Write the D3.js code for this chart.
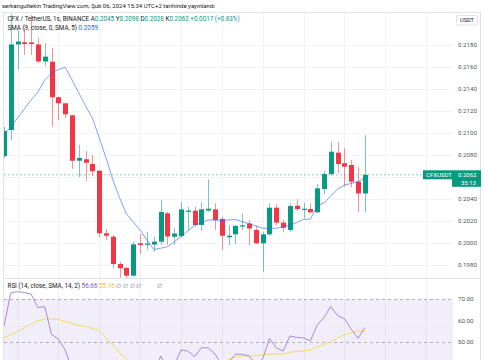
<!DOCTYPE html>
<html><head><meta charset="utf-8">
<script src="https://cdn.jsdelivr.net/npm/d3@7"></script>
<style>html,body{margin:0;padding:0;background:#fff;overflow:hidden}svg{display:block;font-family:Roboto,"Liberation Sans",sans-serif}</style>
</head><body><svg id="c" width="485" height="360"></svg>
<script>
// ---------- data ----------
const opens  = [0.20791,0.21027,0.21805,0.21825,0.21823,0.21805,0.2165,0.21648,0.21325,0.2127,0.21161,0.20748,0.20761,0.20718,0.20657,0.20088,0.20057,0.19809,0.19773,0.19703,0.19997,0.19991,0.19986,0.20012,0.2027,0.20057,0.20064,0.20293,0.20294,0.20164,0.20295,0.20306,0.20218,0.20052,0.20079,0.20159,0.20177,0.20118,0.19997,0.20079,0.20321,0.20185,0.20118,0.20339,0.20309,0.20309,0.20279,0.20491,0.20627,0.20821,0.20725,0.20709,0.20557,0.2045];
const highs  = [0.21055,0.22082,0.21936,0.21955,0.22073,0.21864,0.21818,0.21773,0.2133,0.21273,0.21164,0.20891,0.20836,0.208,0.20664,0.20127,0.20073,0.1983,0.19785,0.20012,0.20082,0.201,0.20057,0.20391,0.20285,0.20136,0.20375,0.2033,0.2033,0.2037,0.20579,0.20361,0.20239,0.20164,0.20164,0.2027,0.20209,0.20155,0.20103,0.20361,0.20352,0.20209,0.20361,0.20397,0.20366,0.20361,0.20536,0.20655,0.20921,0.20921,0.20861,0.20755,0.20691,0.2098];
const lows   = [0.20773,0.20936,0.21573,0.21709,0.21709,0.21636,0.21609,0.21057,0.21118,0.21136,0.20673,0.206,0.20566,0.20609,0.20052,0.20027,0.1977,0.19685,0.19685,0.19694,0.199,0.19936,0.19921,0.19982,0.19982,0.19982,0.2005,0.20118,0.20148,0.20112,0.20285,0.20118,0.19936,0.19982,0.19991,0.20118,0.19982,0.19991,0.19739,0.20064,0.20164,0.20097,0.20103,0.20294,0.20225,0.2027,0.2027,0.20443,0.20609,0.20634,0.20512,0.20509,0.20282,0.2028];
const closes = [0.21018,0.21805,0.21832,0.21809,0.21809,0.2165,0.21694,0.21325,0.2127,0.2117,0.20748,0.20773,0.2073,0.20652,0.20088,0.20066,0.19809,0.1977,0.19703,0.19988,0.19982,0.19995,0.20012,0.20282,0.20059,0.20086,0.20305,0.20295,0.20164,0.20306,0.20312,0.20209,0.20066,0.20066,0.20155,0.20161,0.20132,0.19997,0.20079,0.20321,0.20185,0.20139,0.20336,0.20309,0.20311,0.20279,0.20497,0.20627,0.2083,0.20718,0.20694,0.20557,0.2045,0.2062];
const sma9   = [0.20982,0.21055,0.21136,0.21218,0.213,0.21373,0.21482,0.21545,0.21577,0.21597,0.21482,0.21364,0.21245,0.21136,0.20955,0.20773,0.20573,0.20409,0.20264,0.20191,0.20118,0.20027,0.19941,0.19952,0.19966,0.20009,0.20059,0.20109,0.20159,0.20186,0.20209,0.20209,0.20205,0.20209,0.20215,0.20194,0.20175,0.20155,0.20134,0.20134,0.20134,0.20145,0.20164,0.20186,0.20215,0.20218,0.20336,0.20364,0.20427,0.20491,0.20527,0.20541,0.20557,0.2059];
const rsi    = [57.1,72.8,73.4,73.0,72.3,66.0,66.5,53.5,51.4,46.3,37.5,38.5,37.5,35.5,24.5,24.5,20.5,19.8,19.0,31.0,30.8,31.2,32.0,43.5,38.0,39.0,46.3,45.8,43.2,47.3,47.3,44.4,39.5,40.5,44.3,44.3,43.5,39.5,42.2,51.7,47.3,45.8,52.8,52.1,51.9,50.5,57.9,61.4,66.5,62.3,60.8,56.0,51.7,56.66];
const rsiMa  = [52.0,53.3,54.9,56.5,58.4,59.8,60.7,60.7,60.4,59.6,58.6,57.7,57.2,56.3,55.1,51.9,48.6,44.9,42.0,40.0,38.5,37.0,35.5,35.0,34.5,34.0,34.0,34.5,35.0,36.0,37.5,39.0,40.5,41.9,43.0,43.5,43.6,43.6,44.0,44.4,44.4,44.4,45.2,45.6,45.9,46.3,47.7,48.8,50.1,51.9,53.3,54.4,55.1,55.16];
const priceTicks = [0.198,0.200,0.202,0.204,0.208,0.210,0.212,0.214,0.216,0.218];
const rsiTicks = [70,60,50];
const titleText = "serkangultekin TradingView.com, Şub 06, 2024 15:34 UTC+2 tarihinde yayınlandı";
const symbolText = "CFX / TetherUS, 1s, BINANCE";
const ohlcLabels = ["A","Y","D","K"];
const ohlcValues = ["0.2045","0.2098","0.2028","0.2062"];
const changeText = "+0.0017 (+0.83%)";
const smaLegend = "SMA (9, close, 0, SMA, 5)";
const smaValue = "0.2059";
const rsiLegend = "RSI (14, close, SMA, 14, 2)";
const rsiValues = ["56.66","55.16"];
const lastPrice = 0.2062;
const symbolTag = "CFXUSDT";
const countdown = "35:13";
const currency = "USDT";

// ---------- layout ----------
const L = 4, R = 453, AX = 480, PT = 12, PB = 278, RB = 360;
const UP = "#089981", DN = "#f23645", GRID = "#f0f3fa", BORDER = "#e0e3eb", TXT = "#131722";
const svg = d3.select("#c");
const n = closes.length;
const x = d3.scaleLinear().domain([0, 66]).range([3.9, 3.9 + 66 * 6.81]);
const y = d3.scaleLinear().domain([0.198, 0.218]).range([265, 45]);
const yr = d3.scaleLinear().domain([50, 70]).range([342, 299]);
const defs = svg.append("defs");
defs.append("clipPath").attr("id","cp").append("rect").attr("x",L).attr("y",PT).attr("width",R-L).attr("height",PB-PT);
defs.append("clipPath").attr("id","cr").append("rect").attr("x",L).attr("y",PB).attr("width",R-L).attr("height",RB-PB);

const crisp = v => Math.round(v) + 0.5;

// grids
const vIdx = d3.range(2, 66, 6);
svg.append("g").selectAll("line").data(vIdx).join("line")
  .attr("x1", d => crisp(x(d))).attr("x2", d => crisp(x(d)))
  .attr("y1", PT).attr("y2", RB).attr("stroke", GRID);
svg.append("g").selectAll("line").data(priceTicks.concat([0.206])).join("line")
  .attr("x1", L).attr("x2", R).attr("y1", d => crisp(y(d))).attr("y2", d => crisp(y(d))).attr("stroke", GRID);

// RSI background band
const rg = svg.append("g").attr("clip-path","url(#cr)");
rg.append("rect").attr("x", L).attr("width", R - L).attr("y", yr(70)).attr("height", yr(30) - yr(70))
  .attr("fill", "#7e57c2").attr("fill-opacity", 0.1);
rg.append("line").attr("x1",L).attr("x2",R).attr("y1",crisp(yr(60))).attr("y2",crisp(yr(60))).attr("stroke",GRID);
rg.selectAll("line.band").data([70,50]).join("line").attr("class","band")
  .attr("x1", L).attr("x2", R).attr("y1", d => crisp(yr(d))).attr("y2", d => crisp(yr(d)))
  .attr("stroke", "#787b86").attr("stroke-opacity", 0.55).attr("stroke-dasharray", "3,3");
const idx = d3.range(n);
rg.append("path").datum(idx).attr("fill","none").attr("stroke","#f7dc5c").attr("stroke-width",1)
  .attr("d", d3.line().x(i => x(i)).y(i => yr(rsiMa[i])));
rg.append("path").datum(idx).attr("fill","none").attr("stroke","#a58ad9").attr("stroke-width",1)
  .attr("d", d3.line().x(i => x(i)).y(i => yr(rsi[i])));

// frame lines
svg.append("line").attr("x1",L).attr("x2",AX).attr("y1",PT+0.5).attr("y2",PT+0.5).attr("stroke",BORDER);
svg.append("line").attr("x1",L).attr("x2",AX).attr("y1",PB+0.5).attr("y2",PB+0.5).attr("stroke",BORDER);
svg.append("line").attr("x1",L-0.5).attr("x2",L-0.5).attr("y1",PT).attr("y2",RB).attr("stroke",BORDER);
svg.append("line").attr("x1",AX+0.5).attr("x2",AX+0.5).attr("y1",PT).attr("y2",RB).attr("stroke",BORDER);

// price pane
const pg = svg.append("g").attr("clip-path","url(#cp)");
pg.append("line").attr("x1",L).attr("x2",R).attr("y1",y(lastPrice)).attr("y2",y(lastPrice))
  .attr("stroke", UP).attr("stroke-opacity",0.45).attr("stroke-dasharray","2,2");
const col = i => closes[i] >= opens[i] ? UP : DN;
pg.selectAll("line.wick").data(idx).join("line").attr("class","wick")
  .attr("x1", i => crisp(x(i))).attr("x2", i => crisp(x(i)))
  .attr("y1", i => y(highs[i])).attr("y2", i => y(lows[i]))
  .attr("stroke", col).attr("stroke-opacity", 0.55);
pg.selectAll("rect.body").data(idx).join("rect").attr("class","body")
  .attr("x", i => Math.round(x(i)) - 2).attr("width", 5)
  .attr("y", i => Math.min(y(opens[i]), y(closes[i])))
  .attr("height", i => Math.max(1.2, Math.abs(y(opens[i]) - y(closes[i]))))
  .attr("fill", col);
pg.append("path").datum(idx).attr("fill","none").attr("stroke","#2962ff").attr("stroke-opacity",0.6).attr("stroke-width",1)
  .attr("d", d3.line().x(i => x(i)).y(i => y(sma9[i])));

// axis labels
const fmt = d3.format(".4f");
svg.append("g").selectAll("text").data(priceTicks).join("text")
  .attr("x", 458).attr("y", d => y(d) + 2).attr("font-size", 6.2).attr("fill", TXT).attr("fill-opacity",0.8).text(d => fmt(d));
svg.append("g").selectAll("text").data(rsiTicks).join("text")
  .attr("x", 458).attr("y", d => yr(d) + 2).attr("font-size", 6.2).attr("fill", TXT).attr("fill-opacity",0.8).text(d => d3.format(".2f")(d));

// price label
const ly = y(lastPrice);
svg.append("rect").attr("x",423).attr("y",ly-4.5).attr("width",58).attr("height",9).attr("fill",UP);
svg.append("rect").attr("x",452).attr("y",ly+4).attr("width",29).attr("height",8).attr("fill",UP);
svg.append("text").attr("x",426).attr("y",ly+2.2).attr("font-size",6).attr("fill","#fff").text(symbolTag);
svg.append("text").attr("x",458).attr("y",ly+2.2).attr("font-size",6).attr("fill","#fff").text(fmt(lastPrice));
svg.append("text").attr("x",461).attr("y",ly+10.2).attr("font-size",6).attr("fill","#fff").text(countdown);

// currency box
svg.append("rect").attr("x",456.5).attr("y",15.5).attr("width",21).attr("height",9.5).attr("rx",1.5)
  .attr("fill","#fff").attr("stroke",BORDER);
svg.append("text").attr("x",467).attr("y",22.3).attr("text-anchor","middle").attr("font-size",5.6).attr("fill",TXT).text(currency);

// title
svg.append("text").attr("x",2).attr("y",8.2).attr("font-size",6).attr("fill",TXT).text(titleText);

// legend line 1
const l1 = svg.append("text").attr("x",7.5).attr("y",21.2).attr("font-size",6.3).attr("fill",TXT);
l1.append("tspan").text(symbolText + "  ");
ohlcLabels.forEach((lab, k) => {
  l1.append("tspan").attr("fill",TXT).text(lab);
  l1.append("tspan").attr("fill",UP).text(ohlcValues[k] + " ");
});
l1.append("tspan").attr("fill",UP).text(changeText);
// legend line 2
const l2 = svg.append("text").attr("x",7.5).attr("y",29.6).attr("font-size",6.3).attr("fill",TXT);
l2.append("tspan").text(smaLegend + "  ");
l2.append("tspan").attr("fill","#2962ff").text(smaValue);
// RSI legend
const l3 = svg.append("text").attr("x",7.5).attr("y",288).attr("font-size",6.3).attr("fill",TXT);
l3.append("tspan").text(rsiLegend + "  ");
l3.append("tspan").attr("fill","#7e57c2").text(rsiValues[0] + "  ");
l3.append("tspan").attr("fill","#e8c530").text(rsiValues[1] + "  ");
l3.append("tspan").attr("fill","#787b86").text("∅  ∅  ∅  ∅");
svg.append("text").attr("x",157).attr("y",288).attr("font-size",6.3).attr("fill","#787b86").text("∅");
</script></body></html>
